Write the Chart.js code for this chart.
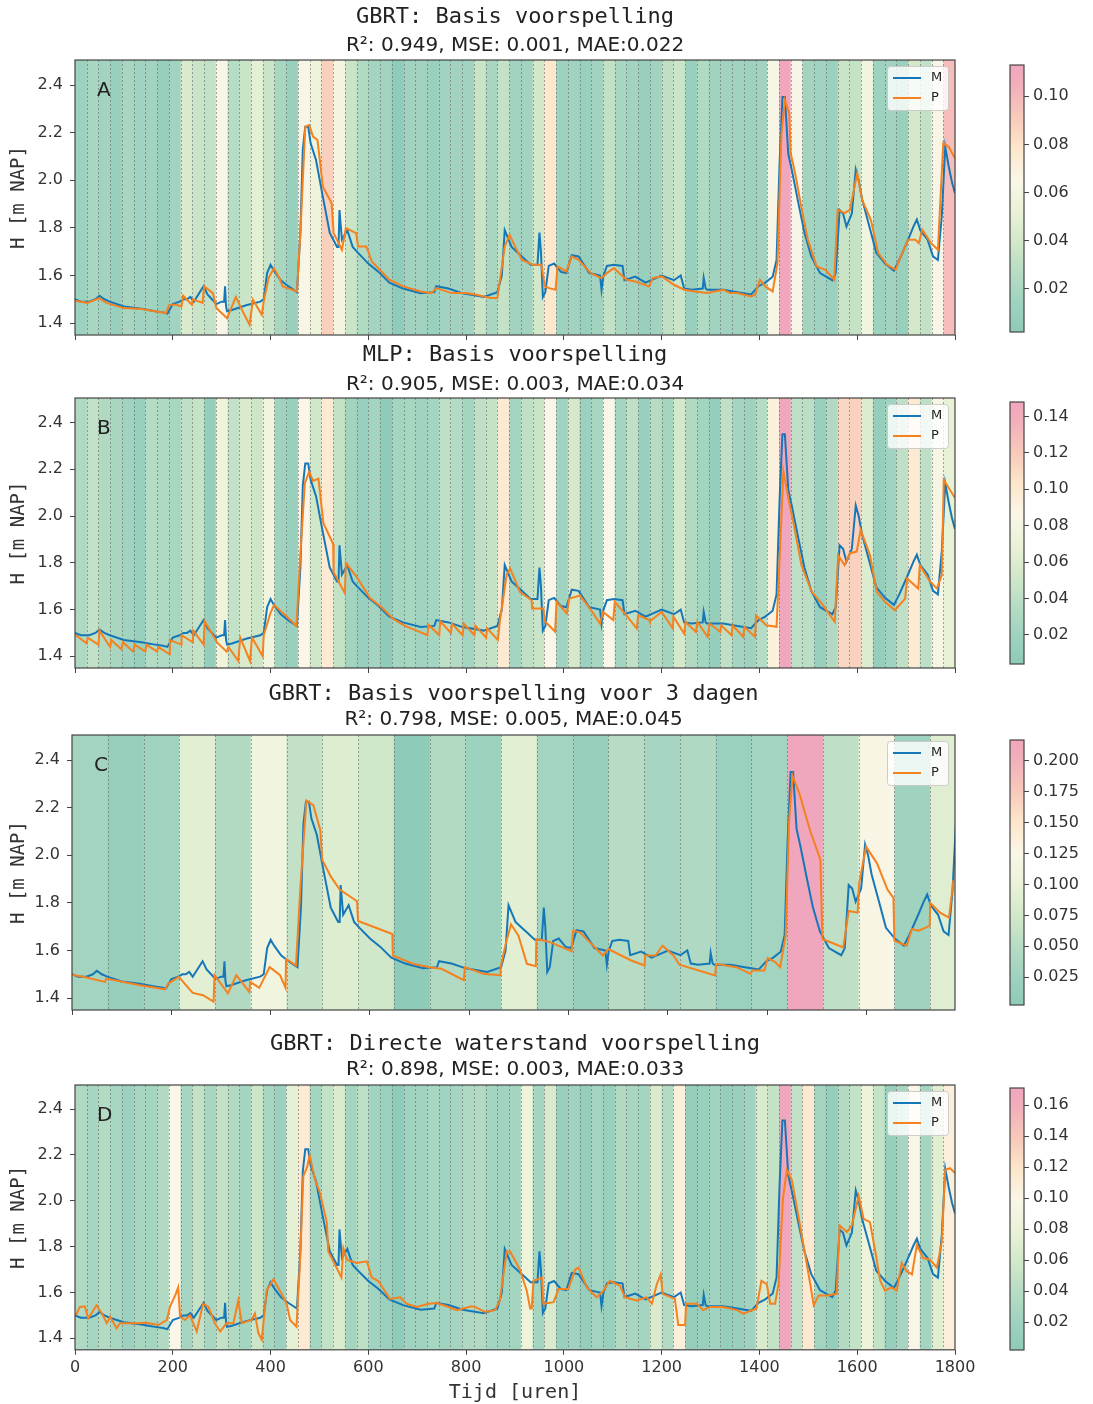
<!DOCTYPE html>
<html>
<head>
<meta charset="utf-8">
<script src="https://cdn.jsdelivr.net/npm/chart.js@4.4.1/dist/chart.umd.min.js"></script>
<style>
  html, body { margin: 0; padding: 0; background: #fff; width: 1093px; height: 1404px; overflow: hidden; }
  canvas { position: absolute; }
</style>
</head>
<body>
<script>
// measured water level [hour, m NAP], shared by all four panels
const measured = [[0,1.50],[12,1.49],[29,1.49],[42,1.50],[50,1.515],[60,1.50],[71,1.49],[100,1.47],[136,1.46],[150,1.455],
  [164,1.45],[180,1.445],[189,1.44],[200,1.48],[214,1.49],[222,1.50],[229,1.50],[236,1.51],[243,1.49],[263,1.555],
  [271,1.52],[289,1.48],[300,1.49],[305,1.49],[307,1.555],[309,1.47],[311,1.45],[321,1.455],[350,1.475],[379,1.49],
  [386,1.50],[393,1.61],[400,1.645],[407,1.62],[421,1.58],[436,1.555],[454,1.53],[461,1.78],[466,2.13],[471,2.225],
  [477,2.225],[482,2.155],[493,2.085],[507,1.93],[521,1.78],[536,1.72],[539,1.72],[541,1.875],[544,1.80],[546,1.75],
  [557,1.79],[568,1.72],[579,1.695],[600,1.65],[621,1.615],[643,1.57],[671,1.545],[707,1.525],[735,1.53],[739,1.555],
  [764,1.545],[793,1.525],[836,1.51],[864,1.53],[873,1.60],[879,1.79],[893,1.72],[914,1.68],[932,1.645],[946,1.645],
  [950,1.78],[953,1.70],[957,1.51],[962,1.53],[969,1.64],[980,1.65],[994,1.615],[1005,1.61],[1016,1.685],[1030,1.68],
  [1052,1.61],[1074,1.60],[1077,1.54],[1081,1.60],[1088,1.64],[1102,1.645],[1120,1.64],[1124,1.58],[1146,1.595],[1167,1.57],
  [1200,1.60],[1225,1.58],[1239,1.60],[1246,1.545],[1261,1.54],[1284,1.545],[1286,1.59],[1290,1.545],[1293,1.54],[1326,1.54],
  [1355,1.53],[1383,1.52],[1398,1.555],[1412,1.57],[1427,1.595],[1435,1.665],[1441,2.06],[1447,2.35],[1452,2.35],[1459,2.11],
  [1466,2.045],[1481,1.89],[1492,1.78],[1506,1.68],[1524,1.61],[1549,1.58],[1556,1.61],[1564,1.875],[1571,1.86],[1578,1.805],
  [1589,1.86],[1597,2.045],[1603,2.00],[1610,1.92],[1625,1.805],[1639,1.695],[1657,1.65],[1675,1.62],[1686,1.665],[1704,1.75],
  [1715,1.805],[1722,1.835],[1729,1.79],[1744,1.75],[1755,1.68],[1765,1.665],[1773,1.85],[1780,2.14],[1787,2.06],[1794,1.99],
  [1800,1.945]];

// predictions [hour, m NAP]
const predA = [[0,1.494],[25,1.485],[50,1.505],[64,1.485],[100,1.463],[136,1.459],[186,1.442],[193,1.477],[207,1.477],[218,1.47],
  [221,1.515],[239,1.477],[241,1.50],[261,1.485],[264,1.555],[282,1.526],[289,1.463],[311,1.42],[329,1.51],[343,1.449],
  [357,1.393],[364,1.498],[382,1.435],[386,1.491],[396,1.589],[407,1.631],[418,1.589],[425,1.554],[454,1.533],[461,1.778],
  [471,2.225],[479,2.232],[487,2.183],[496,2.169],[507,1.973],[525,1.903],[529,1.778],[546,1.708],[554,1.799],[575,1.778],
  [579,1.722],[596,1.722],[607,1.659],[643,1.582],[671,1.554],[707,1.533],[729,1.526],[739,1.547],[771,1.526],[800,1.526],
  [821,1.519],[850,1.505],[864,1.505],[879,1.722],[889,1.771],[900,1.722],[914,1.666],[936,1.645],[954,1.645],[961,1.554],
  [970,1.547],[983,1.54],[987,1.638],[1005,1.617],[1016,1.68],[1030,1.666],[1055,1.61],[1077,1.589],[1088,1.61],[1102,1.631],
  [1128,1.582],[1146,1.575],[1174,1.554],[1182,1.589],[1200,1.596],[1225,1.561],[1246,1.54],[1268,1.533],[1293,1.526],[1326,1.54],
  [1340,1.526],[1355,1.526],[1383,1.512],[1391,1.519],[1401,1.582],[1412,1.554],[1427,1.533],[1437,1.652],[1445,2.197],[1452,2.337],
  [1461,2.281],[1464,2.113],[1473,2.029],[1488,1.862],[1499,1.75],[1517,1.638],[1535,1.624],[1553,1.582],[1560,1.876],[1574,1.862],
  [1585,1.876],[1600,2.029],[1610,1.917],[1628,1.833],[1643,1.694],[1661,1.645],[1679,1.624],[1686,1.666],[1704,1.75],[1719,1.75],
  [1726,1.736],[1733,1.792],[1751,1.736],[1765,1.708],[1776,2.155],[1787,2.141],[1800,2.092]];

const predB = [[2,1.49],[24,1.455],[26,1.48],[48,1.45],[50,1.51],[72,1.44],[74,1.47],[95,1.43],[98,1.46],[119,1.42],
  [122,1.45],[144,1.42],[146,1.45],[168,1.42],[170,1.44],[193,1.41],[194,1.47],[217,1.45],[218,1.49],[241,1.46],
  [242,1.51],[263,1.45],[265,1.55],[288,1.47],[290,1.46],[310,1.42],[314,1.44],[334,1.38],[338,1.48],[358,1.38],
  [362,1.48],[384,1.40],[386,1.49],[399,1.58],[407,1.62],[433,1.57],[453,1.53],[460,1.80],[470,2.14],[479,2.19],
  [487,2.15],[498,2.16],[508,1.97],[528,1.88],[529,1.76],[552,1.67],[554,1.80],[576,1.74],[603,1.65],[627,1.61],
  [651,1.56],[675,1.53],[699,1.51],[721,1.49],[723,1.535],[745,1.49],[747,1.55],[769,1.50],[771,1.54],[793,1.49],
  [795,1.54],[817,1.49],[819,1.53],[841,1.48],[843,1.52],[865,1.47],[869,1.55],[883,1.75],[890,1.776],[910,1.676],
  [934,1.64],[935,1.605],[958,1.605],[961,1.55],[982,1.505],[985,1.633],[1006,1.583],[1011,1.647],[1033,1.66],[1053,1.605],
  [1074,1.54],[1080,1.59],[1101,1.555],[1104,1.633],[1125,1.583],[1149,1.519],[1152,1.576],[1175,1.555],[1176,1.55],[1200,1.59],
  [1223,1.519],[1224,1.569],[1246,1.497],[1249,1.547],[1270,1.504],[1273,1.547],[1294,1.483],[1298,1.54],[1320,1.504],[1322,1.533],
  [1343,1.49],[1345,1.533],[1367,1.483],[1369,1.526],[1391,1.483],[1393,1.576],[1414,1.533],[1435,1.526],[1441,1.805],[1449,2.191],
  [1459,2.077],[1469,1.977],[1486,1.79],[1507,1.676],[1527,1.626],[1554,1.547],[1561,1.833],[1574,1.79],[1585,1.841],[1599,1.848],
  [1607,1.941],[1626,1.833],[1640,1.676],[1657,1.633],[1677,1.597],[1698,1.647],[1702,1.733],[1725,1.69],[1728,1.79],[1749,1.719],
  [1763,1.69],[1773,1.748],[1777,2.155],[1800,2.077]];

const predC = [[0,1.498],[25,1.489],[67,1.468],[69,1.482],[137,1.454],[187,1.437],[194,1.461],[215,1.489],[243,1.422],[264,1.412],
  [285,1.385],[287,1.496],[314,1.42],[331,1.496],[357,1.426],[359,1.468],[377,1.443],[398,1.53],[419,1.496],[430,1.443],
  [431,1.565],[451,1.537],[460,1.87],[472,2.23],[486,2.21],[500,2.105],[504,1.98],[521,1.911],[539,1.856],[574,1.807],
  [576,1.724],[645,1.669],[646,1.579],[687,1.544],[719,1.53],[744,1.523],[789,1.475],[791,1.53],[828,1.502],[862,1.496],
  [863,1.53],[874,1.634],[884,1.71],[899,1.662],[916,1.544],[934,1.534],[935,1.648],[960,1.637],[1006,1.597],[1009,1.683],
  [1023,1.676],[1069,1.579],[1080,1.606],[1126,1.558],[1153,1.537],[1154,1.579],[1175,1.579],[1189,1.62],[1211,1.579],[1223,1.54],
  [1295,1.495],[1297,1.544],[1338,1.53],[1366,1.502],[1370,1.516],[1394,1.516],[1401,1.568],[1416,1.551],[1426,1.53],[1437,1.662],
  [1444,2.147],[1451,2.334],[1465,2.257],[1486,2.105],[1507,1.98],[1511,1.648],[1536,1.627],[1553,1.613],[1564,1.766],[1582,1.759],
  [1585,1.883],[1599,2.036],[1621,1.966],[1642,1.856],[1654,1.821],[1656,1.641],[1681,1.62],[1691,1.69],[1705,1.683],[1727,1.703],
  [1728,1.8],[1748,1.759],[1766,1.738],[1775,1.897]];

const predD = [[2,1.501],[10,1.537],[20,1.54],[27,1.487],[37,1.52],[44,1.544],[55,1.508],[65,1.466],[72,1.494],[85,1.444],
  [92,1.466],[126,1.466],[147,1.468],[170,1.458],[188,1.48],[194,1.537],[205,1.587],[211,1.622],[215,1.494],[225,1.48],
  [235,1.501],[249,1.43],[262,1.551],[273,1.537],[286,1.466],[297,1.43],[310,1.466],[324,1.466],[334,1.565],[341,1.466],
  [361,1.48],[368,1.508],[375,1.423],[382,1.394],[392,1.608],[406,1.658],[419,1.608],[433,1.551],[440,1.48],[453,1.451],
  [460,1.722],[467,2.107],[475,2.149],[480,2.199],[491,2.092],[501,2.035],[515,1.907],[518,1.779],[535,1.708],[545,1.665],
  [549,1.793],[556,1.743],[576,1.729],[597,1.736],[607,1.665],[620,1.651],[631,1.615],[644,1.572],[665,1.579],[678,1.551],
  [699,1.537],[723,1.551],[740,1.554],[760,1.54],[781,1.523],[794,1.53],[811,1.54],[818,1.537],[839,1.515],[859,1.523],
  [869,1.565],[883,1.779],[890,1.779],[910,1.70],[924,1.608],[931,1.53],[934,1.53],[938,1.651],[955,1.665],[958,1.551],
  [979,1.558],[989,1.615],[1009,1.615],[1023,1.70],[1030,1.708],[1047,1.622],[1067,1.579],[1081,1.608],[1094,1.651],[1115,1.629],
  [1125,1.579],[1149,1.565],[1169,1.579],[1180,1.551],[1190,1.636],[1198,1.679],[1202,1.594],[1227,1.572],[1234,1.458],[1248,1.458],
  [1250,1.551],[1272,1.551],[1285,1.523],[1299,1.537],[1326,1.537],[1354,1.523],[1367,1.508],[1394,1.53],[1404,1.651],[1415,1.636],
  [1422,1.551],[1432,1.551],[1439,1.636],[1448,2.007],[1456,2.135],[1466,2.092],[1476,1.978],[1490,1.807],[1504,1.636],[1511,1.544],
  [1521,1.587],[1538,1.587],[1558,1.594],[1564,1.893],[1579,1.864],[1589,1.893],[1603,2.021],[1613,1.921],[1626,1.907],[1637,1.779],
  [1647,1.651],[1657,1.608],[1670,1.622],[1681,1.608],[1691,1.729],[1701,1.693],[1712,1.679],[1722,1.807],[1735,1.75],[1749,1.743],
  [1763,1.708],[1773,1.822],[1780,2.135],[1790,2.142],[1800,2.121]];

// mean absolute error per day (A, B, D) or per 3 days (C)
const errA = [0.013,0.019,0.015,0.010,0.019,0.015,0.015,0.008,0.015,0.043,
  0.035,0.032,0.063,0.026,0.035,0.049,0.035,0.019,0.010,0.063,
  0.055,0.089,0.060,0.035,0.024,0.016,0.015,0.002,0.015,0.015,
  0.011,0.015,0.015,0.015,0.035,0.019,0.033,0.015,0.015,0.040,
  0.077,0.013,0.015,0.010,0.015,0.032,0.019,0.015,0.010,0.015,
  0.031,0.036,0.010,0.024,0.015,0.015,0.015,0.013,0.015,0.063,
  0.113,0.063,0.016,0.015,0.011,0.035,0.033,0.058,0.013,0.015,
  0.010,0.041,0.032,0.063,0.097];
const errB = [0.031,0.043,0.033,0.026,0.021,0.014,0.034,0.031,0.025,0.041,
  0.044,0.011,0.073,0.043,0.057,0.050,0.076,0.020,0.014,0.085,
  0.052,0.099,0.044,0.022,0.015,0.022,0.004,0.023,0.025,0.021,
  0.023,0.040,0.034,0.023,0.041,0.044,0.100,0.023,0.041,0.047,
  0.085,0.021,0.054,0.016,0.025,0.085,0.022,0.041,0.015,0.036,
  0.023,0.054,0.033,0.023,0.011,0.041,0.023,0.020,0.034,0.093,
  0.148,0.041,0.039,0.014,0.033,0.112,0.115,0.059,0.011,0.021,
  0.041,0.099,0.040,0.082,0.067];
const errC = [0.030,0.015,0.028,0.091,0.045,0.110,0.060,0.086,0.073,0.0024,
  0.045,0.024,0.091,0.030,0.015,0.050,0.033,0.043,0.020,0.030,
  0.217,0.058,0.121,0.026,0.088];
const errD = [0.034,0.026,0.037,0.027,0.017,0.027,0.024,0.036,0.098,0.026,
  0.048,0.027,0.048,0.036,0.024,0.056,0.027,0.017,0.075,0.114,
  0.024,0.048,0.066,0.024,0.044,0.022,0.016,0.002,0.021,0.022,
  0.027,0.022,0.024,0.034,0.036,0.024,0.021,0.023,0.083,0.024,
  0.065,0.014,0.021,0.010,0.023,0.014,0.036,0.027,0.024,0.065,
  0.037,0.107,0.010,0.014,0.021,0.010,0.014,0.021,0.065,0.049,
  0.171,0.048,0.115,0.023,0.010,0.037,0.049,0.083,0.049,0.012,
  0.026,0.097,0.024,0.071,0.107];

const xTicks = [0, 200, 400, 600, 800, 1000, 1200, 1400, 1600, 1800];
const yTicks = [1.4, 1.6, 1.8, 2.0, 2.2, 2.4];
const cbTicksA = [0.02, 0.04, 0.06, 0.08, 0.10];
const cbTicksB = [0.02, 0.04, 0.06, 0.08, 0.10, 0.12, 0.14];
const cbTicksC = [0.025, 0.05, 0.075, 0.1, 0.125, 0.15, 0.175, 0.2];
const cbTicksD = [0.02, 0.04, 0.06, 0.08, 0.10, 0.12, 0.14, 0.16];

const BLUE = '#1677b8';
const ORANGE = '#f5811f';
const cmapStops = [[0, [142,203,184]], [0.10, [157,210,191]], [0.22, [182,220,196]], [0.34, [211,232,201]],
  [0.45, [234,242,214]], [0.57, [250,246,232]], [0.69, [253,230,203]], [0.80, [248,203,187]],
  [0.92, [242,176,187]], [1, [240,166,188]]];

function cmap(f) {
  f = Math.max(0, Math.min(1, f));
  for (let i = 1; i < cmapStops.length; i++) {
    const [f1, c1] = cmapStops[i];
    if (f <= f1) {
      const [f0, c0] = cmapStops[i - 1];
      const t = (f - f0) / (f1 - f0);
      const c = c0.map((v, k) => Math.round(v + (c1[k] - v) * t));
      return 'rgb(' + c.join(',') + ')';
    }
  }
  return 'rgb(' + cmapStops[cmapStops.length - 1][1].join(',') + ')';
}

Chart.defaults.font.family = "'DejaVu Sans', sans-serif";
Chart.defaults.color = '#333';

const panels = [
  { tag: 'A', title: 'GBRT: Basis voorspelling', sub: 'R²: 0.949, MSE: 0.001, MAE:0.022', pred: predA, err: errA, band: 24,
    xMax: 1800, cbTicks: cbTicksA, dec: 2, top: 0, height: 342, subTop: 3.6, subBottom: 2.0, left: 75, cbTop: 65, cbBottom: 332 },
  { tag: 'B', title: 'MLP: Basis voorspelling', sub: 'R²: 0.905, MSE: 0.003, MAE:0.034', pred: predB, err: errB, band: 24,
    xMax: 1800, cbTicks: cbTicksB, dec: 2, top: 338, height: 337, subTop: 4.6, subBottom: 1.0, left: 75, cbTop: 402, cbBottom: 664 },
  { tag: 'C', title: 'GBRT: Basis voorspelling voor 3 dagen', sub: 'R²: 0.798, MSE: 0.005, MAE:0.045', pred: predC, err: errC, band: 72,
    xMax: 1778, cbTicks: cbTicksC, dec: 3, top: 677, height: 340, subTop: 0.6, subBottom: 3.0, left: 72, cbTop: 740, cbBottom: 1005 },
  { tag: 'D', title: 'GBRT: Directe waterstand voorspelling', sub: 'R²: 0.898, MSE: 0.003, MAE:0.033', pred: predD, err: errD, band: 24,
    xMax: 1800, cbTicks: cbTicksD, dec: 2, top: 1027, height: 378, subTop: 0.6, subBottom: 3.0, left: 75, cbTop: 1088, cbBottom: 1350, last: true }
];

function addCanvas(left, top, w, h) {
  const c = document.createElement('canvas');
  c.width = w; c.height = h;
  c.style.left = left + 'px'; c.style.top = top + 'px';
  document.body.appendChild(c);
  return c;
}

function bandPlugin(p) {
  const lo = Math.min(...p.err), hi = Math.max(...p.err);
  return {
    id: 'bands' + p.tag,
    beforeDatasetsDraw(chart) {
      const { ctx, chartArea: a, scales: { x } } = chart;
      ctx.save();
      ctx.beginPath();
      ctx.rect(a.left, a.top, a.right - a.left, a.bottom - a.top);
      ctx.clip();
      p.err.forEach((e, i) => {
        const x0 = x.getPixelForValue(i * p.band), x1 = x.getPixelForValue((i + 1) * p.band);
        ctx.fillStyle = cmap((e - lo) / (hi - lo));
        ctx.fillRect(x0, a.top, x1 - x0 + 0.6, a.bottom - a.top);
      });
      ctx.strokeStyle = 'rgba(105,105,105,0.75)';
      ctx.lineWidth = 0.8;
      ctx.setLineDash([2, 2]);
      for (let i = 1; i < p.err.length; i++) {
        const px = Math.round(x.getPixelForValue(i * p.band)) + 0.5;
        ctx.beginPath(); ctx.moveTo(px, a.top); ctx.lineTo(px, a.bottom); ctx.stroke();
      }
      ctx.restore();
    },
    afterDatasetsDraw(chart) {
      const { ctx, chartArea: a } = chart;
      ctx.save();
      // frame
      ctx.strokeStyle = '#444';
      ctx.lineWidth = 1.2;
      ctx.strokeRect(a.left, a.top, a.right - a.left, a.bottom - a.top);
      // panel letter
      ctx.fillStyle = '#222';
      ctx.font = "20px 'DejaVu Sans'";
      ctx.textBaseline = 'middle';
      ctx.textAlign = 'left';
      ctx.fillText(p.tag, a.left + 22, a.top + 31);
      // legend
      const bw = 61, bh = 44, bx = a.right - 7 - bw, by = a.top + 6;
      ctx.fillStyle = 'rgba(255,255,255,0.8)';
      ctx.strokeStyle = 'rgba(200,200,200,0.9)';
      ctx.lineWidth = 1;
      ctx.beginPath();
      ctx.roundRect(bx + 0.5, by + 0.5, bw, bh, 3);
      ctx.fill(); ctx.stroke();
      ctx.font = "13px 'DejaVu Sans'";
      chart.data.datasets.forEach((ds, i) => {
        const y = by + 12 + i * 20;
        ctx.strokeStyle = ds.borderColor;
        ctx.lineWidth = 2;
        ctx.beginPath(); ctx.moveTo(bx + 6, y); ctx.lineTo(bx + 34, y); ctx.stroke();
        ctx.fillStyle = '#222';
        ctx.fillText(ds.label, bx + 44, y);
      });
      ctx.restore();
    }
  };
}

function drawPanel(p) {
  const canvas = addCanvas(0, p.top, 1000, p.height);
  new Chart(canvas, {
    type: 'line',
    data: {
      datasets: [
        { label: 'M', data: measured.map(([x, y]) => ({ x, y })), borderColor: BLUE, borderWidth: 2,
          pointRadius: 0, tension: 0, order: 1, clip: 0 },
        { label: 'P', data: p.pred.map(([x, y]) => ({ x, y })), borderColor: ORANGE, borderWidth: 2,
          pointRadius: 0, tension: 0, order: 0, clip: 0 }
      ]
    },
    options: {
      responsive: false,
      animation: false,
      devicePixelRatio: 1,
      events: [],
      layout: { padding: { left: 0, right: 45, top: 0, bottom: p.last ? 0 : 2 } },
      plugins: {
        legend: { display: false },
        tooltip: { enabled: false },
        title: { display: true, fullSize: false, text: p.title, color: '#222',
          font: { family: "'DejaVu Sans Mono', monospace", size: 22, weight: 'normal' }, padding: { top: 4, bottom: 0 } },
        subtitle: { display: true, fullSize: false, text: p.sub, color: '#222',
          font: { size: 20 }, padding: { top: p.subTop, bottom: p.subBottom } }
      },
      scales: {
        x: {
          type: 'linear', min: 0, max: p.xMax,
          afterBuildTicks: s => { s.ticks = xTicks.filter(v => v <= p.xMax).map(v => ({ value: v })); },
          afterFit: s => { s.paddingLeft = 0; s.paddingRight = 0; },
          ticks: { display: !!p.last, callback: v => String(v), color: '#333', font: { size: 16 }, padding: 3,
            maxRotation: 0, autoSkip: false },
          grid: { drawOnChartArea: false, tickLength: 5, color: '#444' },
          border: { display: false },
          title: { display: !!p.last, text: 'Tijd [uren]', color: '#333',
            font: { family: "'DejaVu Sans Mono', monospace", size: 20 }, padding: { top: 1, bottom: 0 } }
        },
        y: {
          min: 1.35, max: 2.505,
          afterBuildTicks: s => { s.ticks = yTicks.map(v => ({ value: v })); },
          afterFit: s => { s.width = p.left; s.paddingTop = 0; s.paddingBottom = 0; },
          ticks: { callback: v => Number(v).toFixed(1), color: '#333', font: { size: 16 }, padding: 7 },
          grid: { drawOnChartArea: false, tickLength: 5, color: '#444' },
          border: { display: false },
          title: { display: true, text: 'H [m NAP]', color: '#333',
            font: { family: "'DejaVu Sans Mono', monospace", size: 19 }, padding: { top: 8, bottom: 0 } }
        }
      }
    },
    plugins: [bandPlugin(p)]
  });
}

function drawColorbar(p) {
  const lo = Math.min(...p.err), hi = Math.max(...p.err);
  const canvas = addCanvas(995, p.cbTop - 10, 98, p.cbBottom - p.cbTop + 20);
  new Chart(canvas, {
    type: 'scatter',
    data: { datasets: [] },
    options: {
      responsive: false,
      animation: false,
      devicePixelRatio: 1,
      events: [],
      layout: { padding: { left: 15, right: 0, top: 10, bottom: 10 } },
      plugins: { legend: { display: false }, tooltip: { enabled: false } },
      scales: {
        x: { display: false },
        y: {
          position: 'right', min: lo, max: hi,
          afterBuildTicks: s => { s.ticks = p.cbTicks.map(v => ({ value: v })); },
          afterFit: s => { s.width = 69; s.paddingTop = 0; s.paddingBottom = 0; },
          ticks: { callback: v => Number(v).toFixed(p.dec), color: '#333', font: { size: 16 }, padding: 4 },
          grid: { drawOnChartArea: false, tickLength: 5, color: '#444' },
          border: { display: false }
        }
      }
    },
    plugins: [{
      id: 'cbar' + p.tag,
      afterDraw(chart) {
        const { ctx, chartArea: a } = chart;
        const g = ctx.createLinearGradient(0, a.bottom, 0, a.top);
        cmapStops.forEach(([f]) => g.addColorStop(f, cmap(f)));
        ctx.save();
        ctx.fillStyle = g;
        ctx.fillRect(a.left, a.top, a.right - a.left, a.bottom - a.top);
        ctx.strokeStyle = '#444';
        ctx.lineWidth = 1.2;
        ctx.strokeRect(a.left, a.top, a.right - a.left, a.bottom - a.top);
        ctx.restore();
      }
    }]
  });
}

panels.forEach(p => { drawPanel(p); drawColorbar(p); });
</script>
</body>
</html>
